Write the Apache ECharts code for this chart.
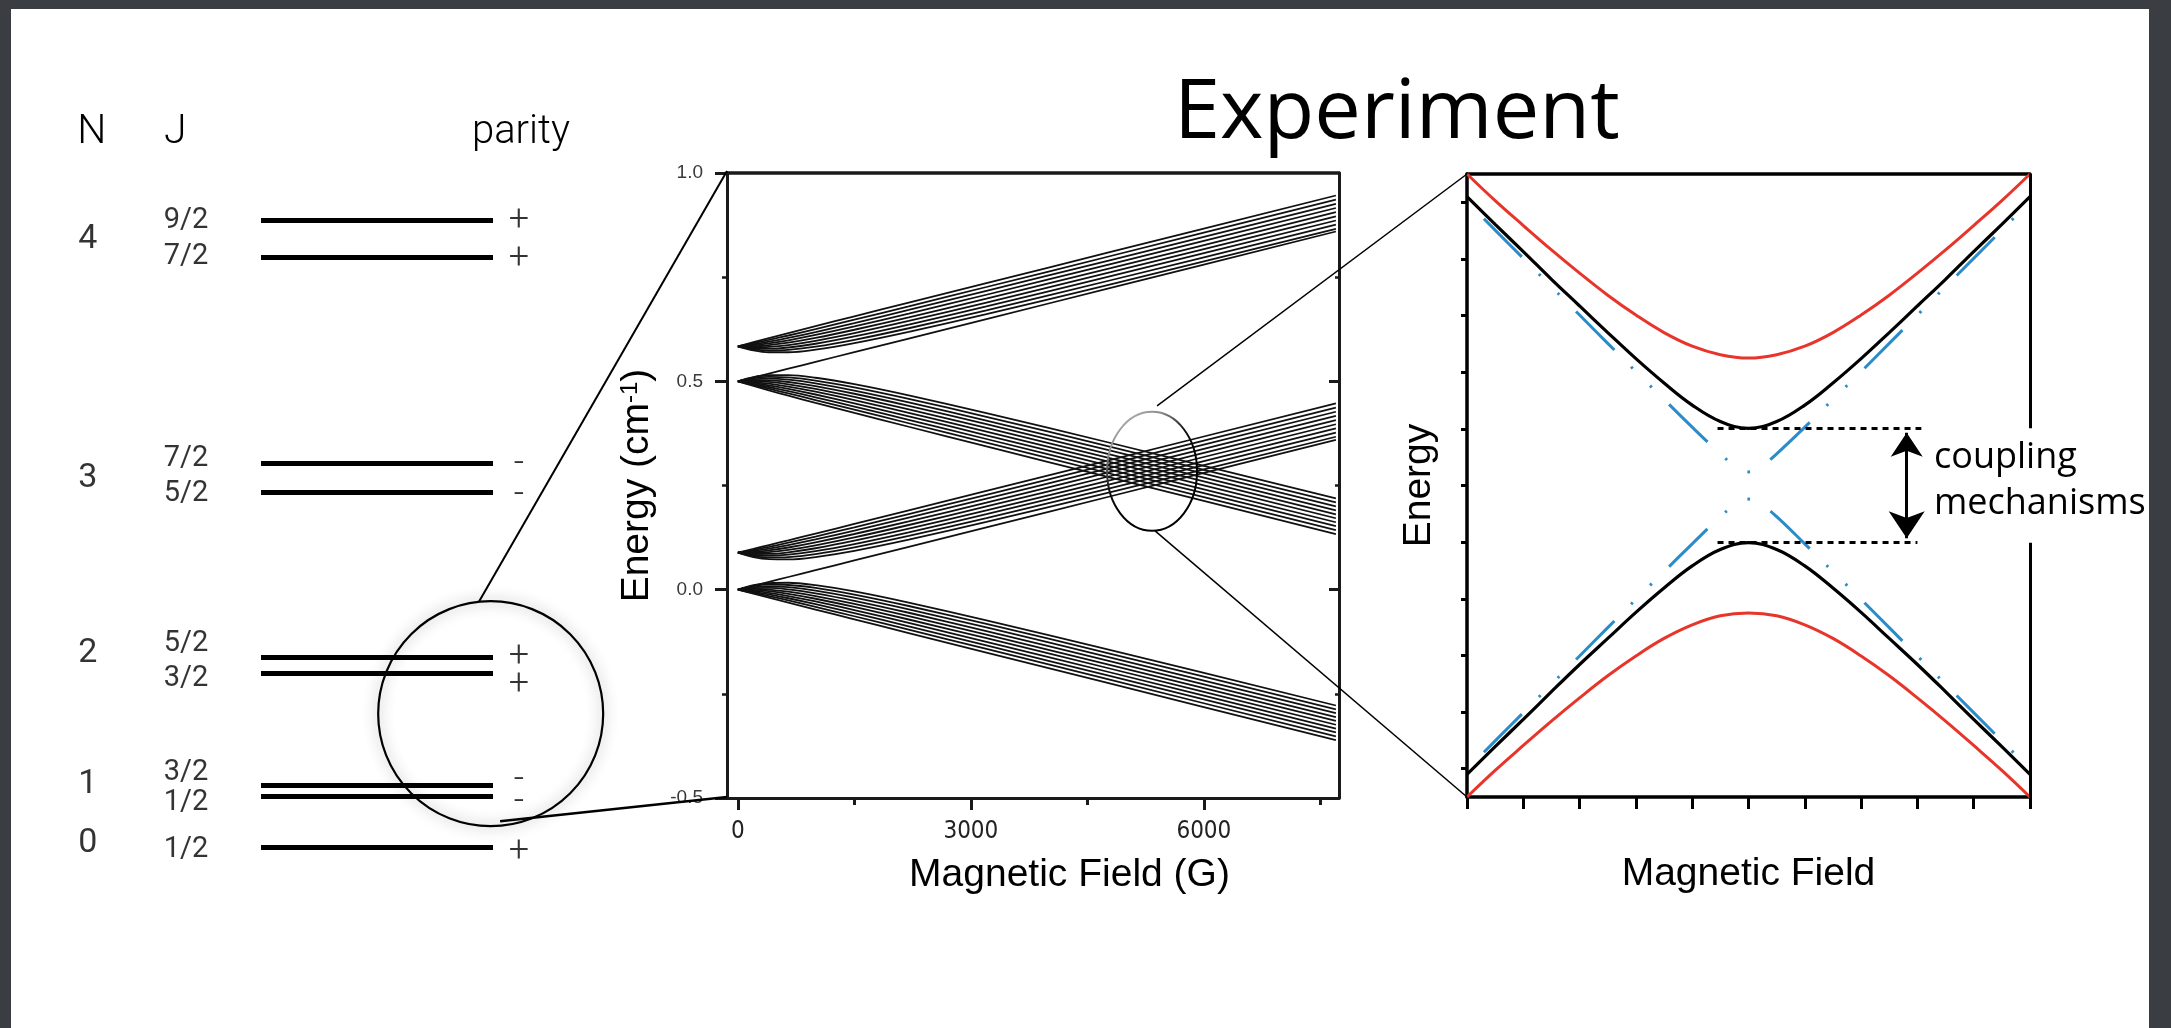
<!DOCTYPE html>
<html>
<head>
<meta charset="utf-8">
<title>Zeeman structure and avoided crossings</title>
<style>
  html, body { margin: 0; padding: 0; background: #ffffff; }
  #chart { width: 2171px; height: 1028px; }
</style>
<script src="https://cdn.jsdelivr.net/npm/echarts@6/dist/echarts.min.js"></script>
</head>
<body>
<div id="chart"></div>
<script>
// ---------- Rotational ladder: N, J, parity and level energy (units of B) ----------
const rotN        = [4, 4, 3, 3, 2, 2, 1, 1, 0];
const levelJ      = ['9/2', '7/2', '7/2', '5/2', '5/2', '3/2', '3/2', '1/2', '1/2'];
const levelParity = ['+', '+', '-', '-', '+', '+', '-', '-', '+'];
const levelEnergy = [20.61, 19.38, 12.64, 11.67, 6.27, 5.73, 2.06, 1.70, 0];

// ---------- Zeeman map: field samples (G) and state energies (cm^-1) ----------
const fieldG = [0, 200, 400, 650, 1000, 1500, 2200, 3200, 4800, 7700];

// N = 2 manifold, states tuning upward
const risingFromN2 = [
  [0.584, 0.5939, 0.6037, 0.6157, 0.6324, 0.6560, 0.6888, 0.7357, 0.8105, 0.9460],
  [0.584, 0.5915, 0.5995, 0.6100, 0.6253, 0.6479, 0.6801, 0.7264, 0.8008, 0.9360],
  [0.584, 0.5890, 0.5952, 0.6042, 0.6183, 0.6399, 0.6713, 0.7171, 0.7911, 0.9260],
  [0.584, 0.5865, 0.5910, 0.5985, 0.6113, 0.6318, 0.6625, 0.7078, 0.7814, 0.9160],
  [0.584, 0.5841, 0.5867, 0.5927, 0.6042, 0.6238, 0.6537, 0.6985, 0.7717, 0.9060],
  [0.584, 0.5816, 0.5825, 0.5870, 0.5972, 0.6157, 0.6449, 0.6891, 0.7620, 0.8960],
  [0.584, 0.5792, 0.5783, 0.5812, 0.5902, 0.6077, 0.6361, 0.6798, 0.7523, 0.8860],
  [0.584, 0.5767, 0.5740, 0.5755, 0.5831, 0.5996, 0.6274, 0.6705, 0.7426, 0.8760],
  [0.584, 0.5742, 0.5698, 0.5698, 0.5761, 0.5916, 0.6186, 0.6612, 0.7329, 0.8660],
  [0.500, 0.5093, 0.5187, 0.5304, 0.5467, 0.5701, 0.6027, 0.6494, 0.7242, 0.8596]
];
// N = 2 manifold, states tuning downward
const fallingFromN2 = [
  [0.5, 0.5100, 0.5146, 0.5148, 0.5086, 0.4932, 0.4663, 0.4237, 0.3520, 0.2190],
  [0.5, 0.5077, 0.5106, 0.5093, 0.5019, 0.4855, 0.4579, 0.4148, 0.3428, 0.2094],
  [0.5, 0.5053, 0.5066, 0.5039, 0.4952, 0.4779, 0.4495, 0.4059, 0.3336, 0.1999],
  [0.5, 0.5030, 0.5025, 0.4984, 0.4885, 0.4702, 0.4412, 0.3971, 0.3243, 0.1904],
  [0.5, 0.5006, 0.4985, 0.4929, 0.4818, 0.4625, 0.4328, 0.3882, 0.3151, 0.1809],
  [0.5, 0.4983, 0.4944, 0.4874, 0.4751, 0.4549, 0.4244, 0.3794, 0.3059, 0.1714],
  [0.5, 0.4959, 0.4904, 0.4820, 0.4684, 0.4472, 0.4161, 0.3705, 0.2966, 0.1618],
  [0.5, 0.4936, 0.4864, 0.4765, 0.4617, 0.4395, 0.4077, 0.3616, 0.2874, 0.1523],
  [0.5, 0.4913, 0.4823, 0.4710, 0.4550, 0.4319, 0.3994, 0.3528, 0.2782, 0.1428],
  [0.5, 0.4889, 0.4783, 0.4655, 0.4483, 0.4242, 0.3910, 0.3439, 0.2689, 0.1333]
];
// N = 1 manifold, states tuning upward
const risingFromN1 = [
  [0.089, 0.0979, 0.1070, 0.1184, 0.1346, 0.1578, 0.1903, 0.2369, 0.3116, 0.4470],
  [0.089, 0.0955, 0.1028, 0.1127, 0.1275, 0.1497, 0.1815, 0.2276, 0.3019, 0.4370],
  [0.089, 0.0930, 0.0985, 0.1069, 0.1205, 0.1416, 0.1728, 0.2183, 0.2922, 0.4270],
  [0.089, 0.0906, 0.0943, 0.1012, 0.1135, 0.1336, 0.1640, 0.2090, 0.2825, 0.4170],
  [0.089, 0.0881, 0.0900, 0.0954, 0.1064, 0.1255, 0.1552, 0.1997, 0.2728, 0.4070],
  [0.089, 0.0856, 0.0858, 0.0897, 0.0994, 0.1175, 0.1464, 0.1904, 0.2631, 0.3970],
  [0.089, 0.0832, 0.0816, 0.0839, 0.0923, 0.1094, 0.1376, 0.1811, 0.2534, 0.3870],
  [0.089, 0.0807, 0.0773, 0.0782, 0.0853, 0.1014, 0.1289, 0.1718, 0.2437, 0.3770],
  [0.089, 0.0783, 0.0731, 0.0725, 0.0783, 0.0933, 0.1201, 0.1625, 0.2340, 0.3670],
  [0.000, 0.0093, 0.0187, 0.0304, 0.0467, 0.0701, 0.1027, 0.1494, 0.2242, 0.3596]
];
// N = 1 manifold, states tuning downward
const fallingFromN1 = [
  [0, 0.0108, 0.0159, 0.0166, 0.0107, -0.0043, -0.0311, -0.0735, -0.1450, -0.2780],
  [0, 0.0085, 0.0120, 0.0112, 0.0042, -0.0118, -0.0392, -0.0821, -0.1540, -0.2872],
  [0, 0.0062, 0.0081, 0.0059, -0.0023, -0.0192, -0.0473, -0.0907, -0.1629, -0.2965],
  [0, 0.0039, 0.0042, 0.0006, -0.0088, -0.0267, -0.0554, -0.0993, -0.1719, -0.3057],
  [0, 0.0017, 0.0003, -0.0047, -0.0153, -0.0341, -0.0635, -0.1079, -0.1809, -0.3149],
  [0, -0.0006, -0.0037, -0.0100, -0.0218, -0.0415, -0.0716, -0.1165, -0.1898, -0.3242],
  [0, -0.0029, -0.0076, -0.0153, -0.0283, -0.0490, -0.0797, -0.1251, -0.1988, -0.3334],
  [0, -0.0052, -0.0115, -0.0206, -0.0348, -0.0564, -0.0879, -0.1337, -0.2077, -0.3426],
  [0, -0.0074, -0.0154, -0.0259, -0.0413, -0.0638, -0.0960, -0.1423, -0.2167, -0.3519],
  [0, -0.0097, -0.0193, -0.0312, -0.0478, -0.0713, -0.1041, -0.1509, -0.2256, -0.3611]
];

const fieldTickValues      = [0, 3000, 6000];
const fieldMinorTickValues = [1500, 4500, 7500];
const energyTickValues      = [-0.5, 0, 0.5, 1.0];
const energyMinorTickValues = [-0.25, 0.25, 0.75];

// ---------- Avoided-crossing sketch (arbitrary units) ----------
const sweepX     = [0, 0.5, 1, 1.5, 2, 2.5, 3, 3.5, 4, 4.5, 5, 5.5, 6, 6.5, 7, 7.5, 8, 8.5, 9, 9.5, 10];
const upperRed   = [11.0, 10.53, 10.09, 9.66, 9.25, 8.86, 8.51, 8.20, 7.96, 7.81, 7.75, 7.81, 7.96, 8.20, 8.51, 8.86, 9.25, 9.66, 10.09, 10.53, 11.0];
const upperBlack = [10.60, 10.11, 9.63, 9.14, 8.67, 8.20, 7.74, 7.31, 6.92, 6.63, 6.51, 6.63, 6.92, 7.31, 7.74, 8.20, 8.67, 9.14, 9.63, 10.11, 10.60];
const lowerBlack = [0.40, 0.89, 1.37, 1.86, 2.34, 2.80, 3.26, 3.69, 4.08, 4.37, 4.49, 4.37, 4.08, 3.69, 3.26, 2.80, 2.34, 1.86, 1.37, 0.89, 0.40];
const lowerRed   = [0.0, 0.47, 0.91, 1.34, 1.75, 2.14, 2.49, 2.80, 3.04, 3.20, 3.25, 3.20, 3.04, 2.80, 2.49, 2.14, 1.75, 1.34, 0.91, 0.47, 0.0];
const diabaticX  = [0.3, 0.5, 1, 1.5, 2, 2.5, 3, 3.5, 4, 4.5, 4.75, 5, 5.25, 5.5, 6, 6.5, 7, 7.5, 8, 8.5, 9, 9.5, 9.9];
const upperBlue  = [10.21, 10.01, 9.51, 9.01, 8.51, 8.01, 7.51, 7.02, 6.53, 6.06, 5.85, 5.74, 5.85, 6.06, 6.53, 7.02, 7.51, 8.01, 8.51, 9.01, 9.51, 10.01, 10.41];
const lowerBlue  = [0.79, 0.99, 1.49, 1.99, 2.49, 2.99, 3.49, 3.98, 4.47, 4.95, 5.15, 5.26, 5.15, 4.95, 4.47, 3.98, 3.49, 2.99, 2.49, 1.99, 1.49, 0.99, 0.59];

// ---------- fonts and layout constants ----------
const SANS   = '"Liberation Sans", Arial, Helvetica, sans-serif';
const LIGHT  = 'Roboto, "Liberation Sans", sans-serif';
const NARROW = '"Liberation Sans Narrow", "DejaVu Sans Condensed", "Liberation Sans", sans-serif';
const DISPLAY = '"Open Sans", "Noto Sans", sans-serif';

const FIELD_MIN = -140, FIELD_MAX = 7740;
const ENERGY_MIN = -0.5, ENERGY_MAX = 1.0;

// column positions (level-diagram x units: 0..1 spans a level bar)
const nColX = -0.746, jColX = -0.323, parityColX = 1.112;
// small vertical nudges (px) so labels sit as in the hand-laid diagram
const jLabelShift   = [1, -0.7, -3.7, 1.7, -12.7, 5.7, -12, 7, 2.3];
const parityShift   = [0.7, 1.6, 1.7, 3.8, 0, 11.7, -3.9, 6.7, 4];
const nLabelShift   = { 4: 1, 3: 0.5, 2: -11.5, 1: -5.5, 0: -4.2 };

const chart = echarts.init(document.getElementById('chart'), null, { renderer: 'canvas' });

// ---------- series builders ----------
function zeemanSeries(bundle) {
  return bundle.map(curve => ({
    type: 'line', xAxisIndex: 1, yAxisIndex: 1,
    smooth: 0.35, symbol: 'none', silent: true, z: 3,
    data: fieldG.map((b, i) => [b, curve[i]]),
    lineStyle: { color: '#111', width: 1.8 }
  }));
}
function sketchSeries(xs, ys, style, z) {
  return {
    type: 'line', xAxisIndex: 4, yAxisIndex: 5,
    smooth: 0.4, symbol: 'none', silent: true, z: z,
    data: xs.map((x, i) => [x, ys[i]]),
    lineStyle: style
  };
}

const uniqueN = [...new Set(rotN)];
const nLabelData = uniqueN.map(n => {
  const es = levelEnergy.filter((e, i) => rotN[i] === n);
  const mid = es.reduce((a, b) => a + b, 0) / es.length;
  return { name: String(n), value: [nColX, mid], label: { offset: [0, nLabelShift[n]] } };
});
const jLabelData = levelEnergy.map((e, i) => ({
  name: levelJ[i], value: [jColX, e], label: { offset: [0, jLabelShift[i]] }
}));
const parityData = levelEnergy.map((e, i) => ({
  name: levelParity[i], value: [parityColX, e], label: { offset: [0, parityShift[i]] }
}));

const gapTop = Math.min(...upperBlack);
const gapBottom = Math.max(...lowerBlack);

function labelSeries(data, fontSize, weight) {
  return {
    type: 'scatter', xAxisIndex: 0, yAxisIndex: 0, symbolSize: 0, clip: false, silent: true,
    data: data,
    itemStyle: { color: '#000' },
    label: {
      show: true, position: 'inside', formatter: '{b}', color: '#000',
      textBorderWidth: 0, textBorderColor: 'transparent',
      fontFamily: LIGHT, fontWeight: weight, fontSize: fontSize,
      align: 'center', verticalAlign: 'middle'
    }
  };
}

const hidden = { show: false };
const axisBase = (extra) => Object.assign({
  type: 'value', splitLine: hidden, axisLabel: hidden, axisTick: hidden,
  axisLine: { show: false, onZero: false }
}, extra);

const option = {
  animation: false,
  backgroundColor: '#ffffff',
  grid: [
    { left: 75.4, top: 86.45, width: 464, height: 822.15 },   // level ladder
    { left: 727, top: 173, width: 612, height: 625 },          // Zeeman map
    { left: 1467, top: 174, width: 563, height: 623 }          // avoided crossing
  ],
  xAxis: [
    axisBase({ gridIndex: 0, min: -0.8, max: 1.2, show: false }),
    axisBase({
      gridIndex: 1, min: FIELD_MIN, max: FIELD_MAX, position: 'bottom',
      axisLine: { show: true, onZero: false, lineStyle: { color: '#1a1a1a', width: 3 } },
      axisTick: { show: true, customValues: fieldTickValues, length: 12, lineStyle: { color: '#1a1a1a', width: 3 } },
      axisLabel: { show: true, customValues: fieldTickValues, margin: 22, color: '#222',
                   fontFamily: NARROW, fontSize: 24, formatter: v => String(v) },
      name: 'Magnetic Field (G)', nameLocation: 'middle', nameGap: 58,
      nameTextStyle: { fontFamily: SANS, fontSize: 39, color: '#000', padding: [0, 0, 0, 73] }
    }),
    axisBase({
      gridIndex: 1, min: FIELD_MIN, max: FIELD_MAX, position: 'bottom',
      axisTick: { show: true, customValues: fieldMinorTickValues, length: 7, lineStyle: { color: '#1a1a1a', width: 3 } }
    }),
    axisBase({
      gridIndex: 1, min: FIELD_MIN, max: FIELD_MAX, position: 'top',
      axisLine: { show: true, onZero: false, lineStyle: { color: '#1a1a1a', width: 3.5 } }
    }),
    axisBase({
      gridIndex: 2, min: 0, max: 10, interval: 1, position: 'bottom',
      axisLine: { show: true, onZero: false, lineStyle: { color: '#000', width: 3.5 } },
      axisTick: { show: true, length: 12, lineStyle: { color: '#000', width: 3 } },
      name: 'Magnetic Field', nameLocation: 'middle', nameGap: 58,
      nameTextStyle: { fontFamily: SANS, fontSize: 39, color: '#000' }
    }),
    axisBase({
      gridIndex: 2, min: 0, max: 10, position: 'top',
      axisLine: { show: true, onZero: false, lineStyle: { color: '#000', width: 3.5 } }
    })
  ],
  yAxis: [
    axisBase({ gridIndex: 0, min: -2, max: 25, show: false }),
    axisBase({
      gridIndex: 1, min: ENERGY_MIN, max: ENERGY_MAX, interval: 0.25, position: 'left',
      axisLine: { show: true, onZero: false, lineStyle: { color: '#1a1a1a', width: 3 } },
      axisTick: { show: true, customValues: energyTickValues, length: 12, lineStyle: { color: '#1a1a1a', width: 3 } },
      axisLabel: { show: true, customValues: energyTickValues, margin: 24, color: '#3a3a3a',
                   fontFamily: SANS, fontSize: 19, formatter: v => v.toFixed(1) },
      name: 'Energy (cm{sup|-1})', nameLocation: 'middle', nameGap: 70,
      nameTextStyle: {
        fontFamily: SANS, fontSize: 39, color: '#000',
        rich: { sup: { fontFamily: SANS, fontSize: 24, color: '#000', verticalAlign: 'top', padding: [0, 0, 14, 0] } }
      }
    }),
    axisBase({
      gridIndex: 1, min: ENERGY_MIN, max: ENERGY_MAX, position: 'left',
      axisTick: { show: true, customValues: energyMinorTickValues, length: 5, lineStyle: { color: '#1a1a1a', width: 2.5 } }
    }),
    axisBase({
      gridIndex: 1, min: ENERGY_MIN, max: ENERGY_MAX, position: 'right',
      axisLine: { show: true, onZero: false, lineStyle: { color: '#1a1a1a', width: 3 } },
      axisTick: { show: true, inside: true, customValues: [0, 0.5], length: 10, lineStyle: { color: '#1a1a1a', width: 3 } }
    }),
    axisBase({
      gridIndex: 1, min: ENERGY_MIN, max: ENERGY_MAX, position: 'right',
      axisTick: { show: true, inside: true, customValues: energyMinorTickValues, length: 4, lineStyle: { color: '#1a1a1a', width: 2.5 } }
    }),
    axisBase({
      gridIndex: 2, min: 0, max: 11, position: 'left',
      axisLine: { show: true, onZero: false, lineStyle: { color: '#000', width: 3.5 } },
      axisTick: { show: true, customValues: [0.5, 1.5, 2.5, 3.5, 4.5, 5.5, 6.5, 7.5, 8.5, 9.5, 10.5],
                  length: 6, lineStyle: { color: '#000', width: 3 } },
      name: 'Energy', nameLocation: 'middle', nameGap: 28,
      nameTextStyle: { fontFamily: SANS, fontSize: 39, color: '#000' }
    })
  ],
  series: [
    // rotational levels
    {
      type: 'lines', coordinateSystem: 'cartesian2d', xAxisIndex: 0, yAxisIndex: 0, silent: true,
      data: levelEnergy.map(e => ({ coords: [[0, e], [1, e]] })),
      lineStyle: { color: '#000', width: 5, opacity: 1 }
    },
    labelSeries(nLabelData, 34, 400),
    labelSeries(jLabelData, 29, 400),
    labelSeries(parityData, 36, 300),

    // Zeeman map
    ...zeemanSeries(risingFromN2),
    ...zeemanSeries(fallingFromN2),
    ...zeemanSeries(risingFromN1),
    ...zeemanSeries(fallingFromN1),

    // avoided crossing sketch
    sketchSeries(diabaticX, upperBlue, { color: '#2a8cc8', width: 3, type: [54, 24, 2.5, 24, 2.5, 24], cap: 'butt' }, 2),
    sketchSeries(diabaticX, lowerBlue, { color: '#2a8cc8', width: 3, type: [54, 24, 2.5, 24, 2.5, 24], cap: 'butt' }, 2),
    sketchSeries(sweepX, upperRed, { color: '#e8352b', width: 3 }, 3),
    sketchSeries(sweepX, lowerRed, { color: '#e8352b', width: 3 }, 3),
    sketchSeries(sweepX, upperBlack, { color: '#000', width: 3.2 }, 4),
    sketchSeries(sweepX, lowerBlack, { color: '#000', width: 3.2 }, 4),
    // right-hand frame edge, open across the coupling gap
    {
      type: 'lines', coordinateSystem: 'cartesian2d', xAxisIndex: 4, yAxisIndex: 5, silent: true, z: 5,
      data: [{ coords: [[10, 0], [10, gapBottom]] }, { coords: [[10, gapTop], [10, 11]] }],
      lineStyle: { color: '#000', width: 3, opacity: 1 }
    },
    // dotted markers at the gap edges
    {
      type: 'lines', coordinateSystem: 'cartesian2d', xAxisIndex: 4, yAxisIndex: 5, silent: true, z: 5,
      data: [{ coords: [[4.45, gapTop], [8.07, gapTop]] }, { coords: [[4.45, gapBottom], [8.0, gapBottom]] }],
      lineStyle: { color: '#000', width: 3, opacity: 1, type: [6, 5] }
    },
    // double-headed arrow spanning the gap
    {
      type: 'lines', coordinateSystem: 'cartesian2d', xAxisIndex: 4, yAxisIndex: 5, silent: true, z: 5,
      symbol: ['arrow', 'arrow'], symbolSize: [24, 27],
      data: [{ coords: [[7.81, gapTop - 0.08], [7.81, gapBottom + 0.08]] }],
      lineStyle: { color: '#000', width: 3, opacity: 1 }
    }
  ]
};

chart.setOption(option);

// ---------- annotation layer placed through the chart's own scales ----------
const G0 = { xAxisIndex: 0, yAxisIndex: 0 };
const G1 = { xAxisIndex: 1, yAxisIndex: 1 };
const G2 = { xAxisIndex: 4, yAxisIndex: 5 };
const px = (finder, v) => chart.convertToPixel(finder, v);

const ringC = px(G0, [0.99, 4.4]);
const ringR = 112.5;
const midTL = px(G1, [FIELD_MIN, ENERGY_MAX]);
const midBL = px(G1, [FIELD_MIN, ENERGY_MIN]);
const lensC = px(G1, [5333, 0.284]);
const lensRx = 45, lensRy = 59.5;
const rightTL = px(G2, [0, 11]);
const rightBL = px(G2, [0, 0]);
const deg = Math.PI / 180;

const frameColor = '#3a3d42';
chart.setOption({
  graphic: [
    // slide frame
    { type: 'rect', z: 200, shape: { x: 0, y: 0, width: 2171, height: 9 }, style: { fill: frameColor } },
    { type: 'rect', z: 200, shape: { x: 0, y: 0, width: 11, height: 1028 }, style: { fill: frameColor } },
    { type: 'rect', z: 200, shape: { x: 2149, y: 0, width: 22, height: 1028 }, style: { fill: frameColor } },

    // title
    { type: 'text', z: 100, x: 1174, y: 114,
      style: { text: 'Experiment', fontFamily: DISPLAY, fontSize: 83, fill: '#000', align: 'left', verticalAlign: 'middle' } },

    // ladder header
    { type: 'text', z: 100, x: px(G0, [nColX, 0])[0] + 4, y: 133,
      style: { text: 'N', fontFamily: LIGHT, fontWeight: 300, fontSize: 41, fill: '#000', align: 'center', verticalAlign: 'middle' } },
    { type: 'text', z: 100, x: 164, y: 133,
      style: { text: 'J', fontFamily: LIGHT, fontWeight: 300, fontSize: 41, fill: '#000', align: 'left', verticalAlign: 'middle' } },
    { type: 'text', z: 100, x: px(G0, [parityColX, 0])[0] + 2, y: 133,
      style: { text: 'parity', fontFamily: LIGHT, fontWeight: 300, fontSize: 40, fill: '#000', align: 'center', verticalAlign: 'middle' } },

    // magnifier ring over the N = 1, 2 levels and its connectors
    { type: 'circle', z: 60, shape: { cx: ringC[0], cy: ringC[1], r: ringR },
      style: { fill: 'none', stroke: '#000', lineWidth: 2.2, shadowBlur: 14, shadowColor: 'rgba(0,0,0,0.45)' } },
    { type: 'line', z: 60,
      shape: { x1: ringC[0] + ringR * Math.cos(-96 * deg), y1: ringC[1] + ringR * Math.sin(-96 * deg), x2: midTL[0], y2: midTL[1] - 2 },
      style: { stroke: '#000', lineWidth: 2 } },
    { type: 'line', z: 60,
      shape: { x1: ringC[0] + 0.96 * ringR * Math.cos(85 * deg), y1: ringC[1] + 0.96 * ringR * Math.sin(85 * deg), x2: midBL[0], y2: midBL[1] - 1 },
      style: { stroke: '#000', lineWidth: 2.6 } },

    // lens over the crossing region and its connectors
    { type: 'ellipse', z: 60, shape: { cx: lensC[0], cy: lensC[1], rx: lensRx, ry: lensRy },
      style: { fill: 'none', lineWidth: 2,
               stroke: new echarts.graphic.LinearGradient(0, 0, 0.6, 0.6, [
                 { offset: 0, color: '#d0d0d0' }, { offset: 0.4, color: '#8a8a8a' }, { offset: 0.7, color: '#111' }, { offset: 1, color: '#000' }
               ]) } },
    { type: 'line', z: 60, shape: { x1: lensC[0] + 5, y1: lensC[1] - lensRy - 6, x2: rightTL[0], y2: rightTL[1] },
      style: { stroke: '#000', lineWidth: 1.5 } },
    { type: 'line', z: 60, shape: { x1: lensC[0] + 3, y1: lensC[1] + lensRy, x2: rightBL[0], y2: rightBL[1] },
      style: { stroke: '#000', lineWidth: 1.5 } },

    // annotation next to the gap arrow
    { type: 'text', z: 100, x: 1934, y: 458,
      style: { text: 'coupling', fontFamily: DISPLAY, fontSize: 36, fill: '#000', align: 'left', verticalAlign: 'middle' } },
    { type: 'text', z: 100, x: 1934, y: 504,
      style: { text: 'mechanisms', fontFamily: DISPLAY, fontSize: 36, fill: '#000', align: 'left', verticalAlign: 'middle' } }
  ]
});
</script>
</body>
</html>
